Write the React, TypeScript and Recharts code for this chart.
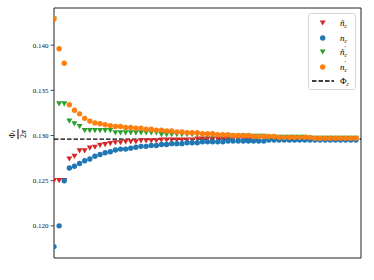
import React from "react";
import {
  ScatterChart,
  Scatter,
  XAxis,
  YAxis,
  ReferenceLine,
  ReferenceArea,
} from "recharts";

// ── Data ─────────────────────────────────────────────────────────────────────

const steps = Array.from({ length: 60 }, (_, i) => i + 1);

const nTildeC = [
  0.1250, 0.1250, 0.1250, 0.1274, 0.1277, 0.1283, 0.1283, 0.1286, 0.1287, 0.1289,
  0.1290, 0.1291, 0.1292, 0.1292, 0.1293, 0.1293, 0.1293, 0.1294, 0.1294, 0.1294,
  0.1294, 0.1295, 0.1295, 0.1295, 0.1295, 0.1295, 0.1295, 0.1295, 0.1296, 0.1296,
  0.1296, 0.1296, 0.1296, 0.1296, 0.1296, 0.1296, 0.1296, 0.1296, 0.1296, 0.1296,
  0.1296, 0.1296, 0.1296, 0.1296, 0.1296, 0.1296, 0.1296, 0.1296, 0.1296, 0.1296,
  0.1296, 0.1296, 0.1296, 0.1296, 0.1296, 0.1296, 0.1296, 0.1296, 0.1296, 0.1296,
];

const nC = [
  0.1177, 0.1200, 0.1250, 0.1264, 0.1266, 0.1269, 0.1272, 0.1274, 0.1277, 0.1279,
  0.1281, 0.1282, 0.1284, 0.1285, 0.1285, 0.1286, 0.1287, 0.1288, 0.1288, 0.1289,
  0.1289, 0.1290, 0.1290, 0.1291, 0.1291, 0.1291, 0.1292, 0.1292, 0.1292, 0.1293,
  0.1293, 0.1293, 0.1293, 0.1293, 0.1294, 0.1294, 0.1294, 0.1294, 0.1294, 0.1294,
  0.1294, 0.1294, 0.1295, 0.1295, 0.1295, 0.1295, 0.1295, 0.1295, 0.1295, 0.1295,
  0.1295, 0.1295, 0.1295, 0.1295, 0.1295, 0.1295, 0.1295, 0.1295, 0.1295, 0.1295,
];

const nTildePrimeC = [
  0.1429, 0.1335, 0.1335, 0.1316, 0.1313, 0.1310, 0.13055, 0.13055, 0.13055, 0.13055,
  0.13055, 0.13055, 0.1303, 0.1303, 0.1303, 0.1303, 0.1303, 0.1303, 0.1303, 0.1303,
  0.1303, 0.1301, 0.1301, 0.1301, 0.1301, 0.1301, 0.1301, 0.1301, 0.1301, 0.1301,
  0.1300, 0.1300, 0.1300, 0.1300, 0.1300, 0.1299, 0.1299, 0.1299, 0.1299, 0.1299,
  0.1299, 0.1299, 0.1298, 0.1298, 0.1298, 0.1298, 0.1298, 0.1298, 0.1298, 0.1298,
  0.1297, 0.1297, 0.1297, 0.1297, 0.1297, 0.1297, 0.1297, 0.1297, 0.1297, 0.1297,
];

const nPrimeC = [
  0.1429, 0.1396, 0.1380, 0.1334, 0.1328, 0.1324, 0.1319, 0.1316, 0.1314, 0.1313,
  0.1312, 0.1311, 0.1310, 0.1310, 0.1309, 0.1309, 0.1308, 0.1308, 0.1307, 0.1307,
  0.1306, 0.1306, 0.1305, 0.1305, 0.1304, 0.1304, 0.1303, 0.1303, 0.1303, 0.1302,
  0.1302, 0.1302, 0.1301, 0.1301, 0.1301, 0.1300, 0.1300, 0.1300, 0.1300, 0.1299,
  0.1299, 0.1299, 0.1299, 0.1299, 0.1298, 0.1298, 0.1298, 0.1298, 0.1298, 0.1298,
  0.1298, 0.1297, 0.1297, 0.1297, 0.1297, 0.1297, 0.1297, 0.1297, 0.1297, 0.1297,
];

const phiC = 0.1296;

const yTicks = [0.12, 0.125, 0.13, 0.135, 0.14];
const yMin = 0.11644;
const yMax = 0.14412;

const RED = "#d62728";
const BLUE = "#1f77b4";
const GREEN = "#2ca02c";
const ORANGE = "#ff7f0e";

const SERIF = "'Liberation Serif', 'DejaVu Serif', serif";

const toPoints = (vals: number[]) => vals.map((y, i) => ({ x: steps[i], y }));

// ── Markers ──────────────────────────────────────────────────────────────────

const circle = (color: string) => (p: any) =>
  <circle cx={p.cx} cy={p.cy} r={2.7} fill={color} />;

const triDown = (color: string) => (p: any) => (
  <path
    d={`M${p.cx - 3},${p.cy - 2.6} L${p.cx + 3},${p.cy - 2.6} L${p.cx},${p.cy + 2.6} Z`}
    fill={color}
  />
);

// ── Legend labels ────────────────────────────────────────────────────────────

function Sym({ base, prime, upright }: { base: string; prime?: boolean; upright?: boolean }) {
  return (
    <span style={{ display: "inline-flex", alignItems: "flex-start" }}>
      <span style={{ fontStyle: upright ? "normal" : "italic" }}>{base}</span>
      <span style={{ display: "inline-flex", flexDirection: "column", fontSize: 6, lineHeight: "6px", marginTop: -1 }}>
        <span style={{ height: 5 }}>{prime ? "′" : "\u00a0"}</span>
        <span style={{ fontStyle: "italic", marginTop: 2 }}>c</span>
      </span>
    </span>
  );
}

const legendRows = [
  { label: <Sym base="ñ" />, mark: "tri", color: RED },
  { label: <Sym base="n" />, mark: "circ", color: BLUE },
  { label: <Sym base="ñ" prime />, mark: "tri", color: GREEN },
  { label: <Sym base="n" prime />, mark: "circ", color: ORANGE },
  { label: <Sym base="Φ" upright />, mark: "dash", color: "#000" },
];

function LegendBox() {
  return (
    <div
      style={{
        position: "absolute",
        left: 308,
        top: 13,
        width: 48,
        height: 77,
        border: "1px solid #d6d6d6",
        borderRadius: 3,
        background: "rgba(255,255,255,0.85)",
        boxSizing: "border-box",
        fontFamily: SERIF,
        fontSize: 9,
        color: "#000",
      }}
    >
      {legendRows.map((r, i) => (
        <div key={i} style={{ position: "absolute", top: 2 + i * 14.6, left: 0, height: 14, width: 46 }}>
          <svg width={26} height={14} style={{ position: "absolute", left: 0, top: 0 }}>
            {r.mark === "circ" && <circle cx={13.7} cy={7} r={2.7} fill={r.color} />}
            {r.mark === "tri" && <path d="M10.7,4.4 L16.7,4.4 L13.7,9.6 Z" fill={r.color} />}
            {r.mark === "dash" && (
              <line x1={3} x2={25} y1={7} y2={7} stroke="#000" strokeWidth={1.4} strokeDasharray="4.5 2" />
            )}
          </svg>
          <div style={{ position: "absolute", left: 31, top: 1, lineHeight: "12px" }}>{r.label}</div>
        </div>
      ))}
    </div>
  );
}

function YLabel() {
  return (
    <div
      style={{
        position: "absolute",
        left: 18,
        top: 134,
        transform: "translate(-50%, -50%) rotate(-90deg)",
        display: "inline-flex",
        flexDirection: "column",
        alignItems: "center",
        fontFamily: SERIF,
        fontSize: 8,
        lineHeight: "8px",
        color: "#000",
      }}
    >
      <span style={{ padding: "0 1px 1px" }}>
        Φ<span style={{ fontSize: 5.5, fontStyle: "italic" }}>c</span>
      </span>
      <span style={{ borderTop: "0.8px solid #000", padding: "1px 1px 0" }}>
        2<span style={{ fontStyle: "italic" }}>π</span>
      </span>
    </div>
  );
}

// ── Main ─────────────────────────────────────────────────────────────────────

export default function App() {
  return (
    <div style={{ position: "absolute", left: 0, top: 0, width: 374, height: 280, background: "#fff" }}>
      <ScatterChart width={374} height={280} margin={{ top: 8, right: 13, bottom: 22, left: 0 }}>
        <XAxis type="number" dataKey="x" domain={[1, 61]} hide allowDataOverflow />
        <YAxis
          type="number"
          dataKey="y"
          domain={[yMin, yMax]}
          ticks={yTicks}
          allowDataOverflow
          width={54}
          axisLine={false}
          tickLine={{ stroke: "#222", strokeWidth: 0.8 }}
          tickSize={3.5}
          tickFormatter={(v: number) => v.toFixed(3)}
          tick={{ fontSize: 7, fill: "#111", stroke: "none", fontFamily: SERIF }}
        />
        <ReferenceArea x1={1} x2={61} y1={yMin} y2={yMax} fill="none" stroke="#222" strokeWidth={1} />
        <ReferenceLine y={phiC} stroke="#000" strokeWidth={1.4} strokeDasharray="4.5 2" />
        <Scatter data={toPoints(nTildeC)} shape={triDown(RED)} isAnimationActive={false} />
        <Scatter data={toPoints(nC)} shape={circle(BLUE)} isAnimationActive={false} />
        <Scatter data={toPoints(nTildePrimeC)} shape={triDown(GREEN)} isAnimationActive={false} />
        <Scatter data={toPoints(nPrimeC)} shape={circle(ORANGE)} isAnimationActive={false} />
      </ScatterChart>
      <YLabel />
      <LegendBox />
    </div>
  );
}
